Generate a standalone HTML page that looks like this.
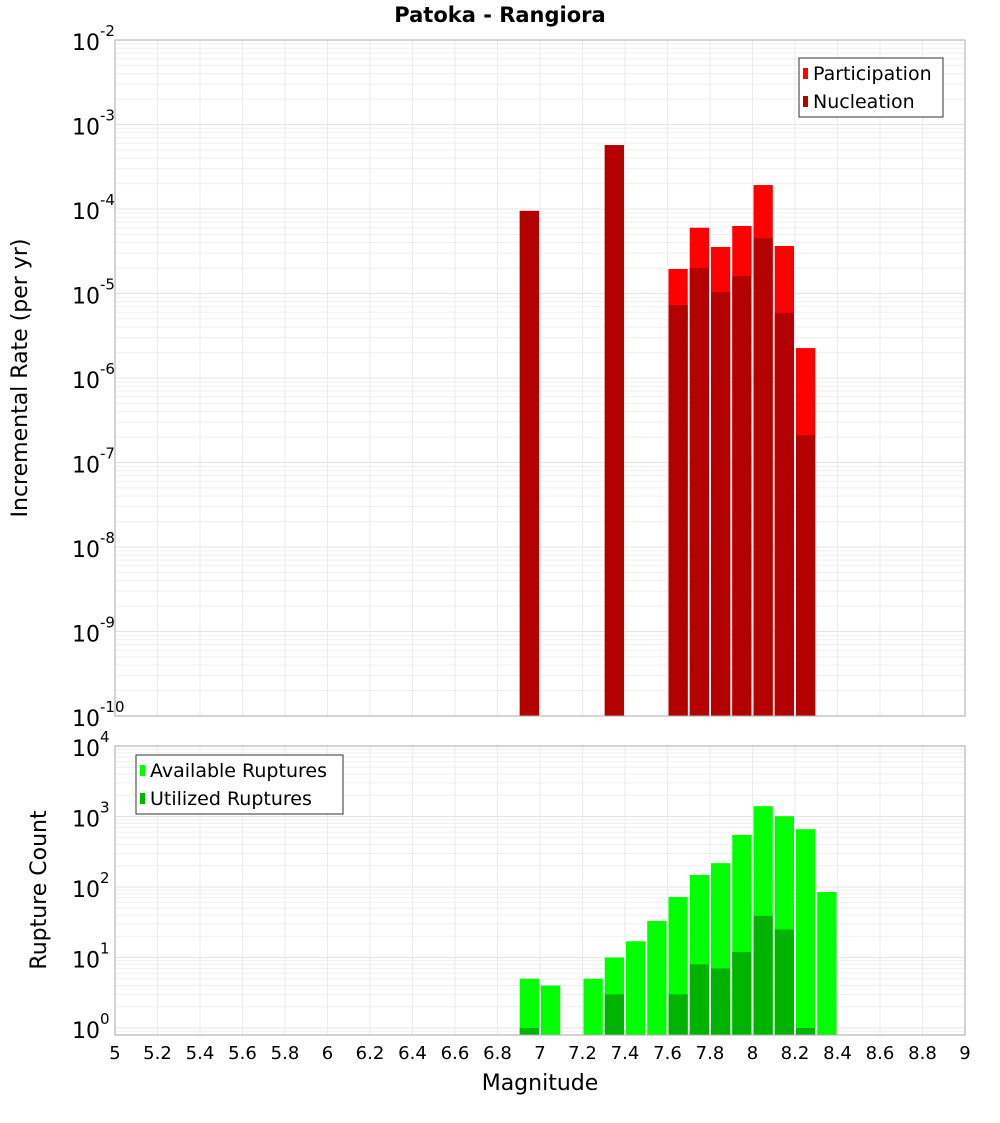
<!DOCTYPE html>
<html><head><meta charset="utf-8"><style>
body{margin:0;background:#fff;font-family:"Liberation Sans","DejaVu Sans",sans-serif}
svg text{font-family:"DejaVu Sans","Liberation Sans",sans-serif}
</style></head><body>
<svg id="c" width="1000" height="1100" xmlns="http://www.w3.org/2000/svg"></svg>
<script>
const mags=[6.95,7.35,7.65,7.75,7.85,7.95,8.05,8.15,8.25];
const participation=[9.5e-5,5.7e-4,1.95e-5,6.0e-5,3.55e-5,6.3e-5,1.92e-4,3.65e-5,2.26e-6];
const nucleation=[9.5e-5,5.7e-4,7.3e-6,2.0e-5,1.04e-5,1.6e-5,4.5e-5,5.9e-6,2.1e-7];
const countMags=[6.95,7.05,7.25,7.35,7.45,7.55,7.65,7.75,7.85,7.95,8.05,8.15,8.25,8.35];
const available=[5,4,5,10,17,33,72,148,218,548,1400,1010,660,85];
const utilizedMags=[6.95,7.35,7.65,7.75,7.85,7.95,8.05,8.15,8.25];
const utilized=[1,3,3,8,7,12,39,25,1];
const xTicks=[5,5.2,5.4,5.6,5.8,6,6.2,6.4,6.6,6.8,7,7.2,7.4,7.6,7.8,8,8.2,8.4,8.6,8.8,9];
const topExps=[-2,-3,-4,-5,-6,-7,-8,-9,-10];
const botExps=[4,3,2,1,0];

const NS="http://www.w3.org/2000/svg";
const svg=document.getElementById('c');
function el(t,a,p){const e=document.createElementNS(NS,t);for(const k in a)e.setAttribute(k,a[k]);(p||svg).appendChild(e);return e;}
const X0=115,X1=965;
const x=m=>X0+(m-5)*(X1-X0)/4;
const T0=40,T1=716;
const yTop=v=>T0+(-2-Math.log10(v))*84.5;
const B0=746,B1=1035;
const yBot=v=>1028-Math.log10(v)*70.5;

function grid(y0,y1,dec0,dec1,yf){
  const g=el('g',{});
  
  
  for(let d=dec0;d<dec1;d++)for(let k=1;k<10;k++){const yy=yf(k*Math.pow(10,d));if(yy>=y0&&yy<=y1)el('line',{x1:X0,x2:X1,y1:yy,y2:yy,stroke:k==1?'#e4e4e4':'#efefef','stroke-width':1},g);}
  for(const t of xTicks){el('line',{x1:x(t),x2:x(t),y1:y0,y2:y1,stroke:'#ebebeb','stroke-width':1},g);}
}
grid(T0,T1,-10,-1,yTop);
grid(B0,B1,-1,5,yBot);

function bars(ms,vs,yf,base,color,name){
  ms.forEach((m,i)=>{const yy=yf(vs[i]);const r=el('rect',{x:x(m-0.05)+1,width:x(m+0.05)-x(m-0.05)-2,y:yy,height:base-yy,fill:color});
  
  });
}
bars(mags,participation,yTop,T1,'#ff0000','participation');
bars(mags,nucleation,yTop,T1,'#b30000','nucleation');
bars(countMags,available,yBot,B1,'#00ff00','available');
bars(utilizedMags,utilized,yBot,B1,'#00b300','utilized');

el('rect',{x:X0,y:T0,width:X1-X0,height:T1-T0,fill:'none',stroke:'#aaa'});
el('rect',{x:X0,y:B0,width:X1-X0,height:B1-B0,fill:'none',stroke:'#aaa'});

function powLabel(e,yy){const t=el('text',{x:108,y:yy+9,'text-anchor':'end','font-size':22,fill:'#000'});
 
 
 t.textContent='10';const s=el('tspan',{dy:-14,'font-size':15},t);s.textContent=e;}
topExps.forEach(e=>{const yy=yTop(Math.pow(10,e));const t=el('text',{x:72,y:yy+10,'font-size':22});
 
 
 t.textContent='10';const s=el('tspan',{dy:-14,'font-size':15},t);s.textContent=e;});
botExps.forEach(e=>{const yy=yBot(Math.pow(10,e));const t=el('text',{x:72,y:yy+10,'font-size':22});
 
 
 t.textContent='10';const s=el('tspan',{dy:-14,'font-size':15},t);s.textContent=e;});
xTicks.forEach(t=>{const tx=el('text',{x:x(t),y:1059,'text-anchor':'middle','font-size':18});
 
 
 tx.textContent=String(t);});
</script>
<svg width="0" height="0"></svg>
<div style="position:absolute;left:0;top:0;width:1000px;height:1100px;pointer-events:none">
<svg width="1000" height="1100" xmlns="http://www.w3.org/2000/svg" style="font-family:'DejaVu Sans','Liberation Sans',sans-serif">
<text x="500" y="22" text-anchor="middle" font-size="21" font-weight="bold">Patoka - Rangiora</text>
<text transform="translate(27,378) rotate(-90)" text-anchor="middle" font-size="22">Incremental Rate (per yr)</text>
<text transform="translate(46,890) rotate(-90)" text-anchor="middle" font-size="22">Rupture Count</text>
<text x="540" y="1090" text-anchor="middle" font-size="22">Magnitude</text>
<g>
<rect x="799" y="58" width="144" height="59" fill="#fff" stroke="#333"/>
<rect x="803" y="68" width="5" height="11" fill="#ff0000"/>
<text x="813" y="80" font-size="19">Participation</text>
<rect x="803" y="96" width="5" height="11" fill="#b30000"/>
<text x="813" y="108" font-size="19">Nucleation</text>
</g>
<g>
<rect x="136" y="755" width="207" height="59" fill="#fff" stroke="#333"/>
<rect x="140" y="765" width="5" height="11" fill="#00ff00"/>
<text x="150" y="777" font-size="19">Available Ruptures</text>
<rect x="140" y="793" width="5" height="11" fill="#00b300"/>
<text x="150" y="805" font-size="19">Utilized Ruptures</text>
</g>
</svg></div>
</body></html>
